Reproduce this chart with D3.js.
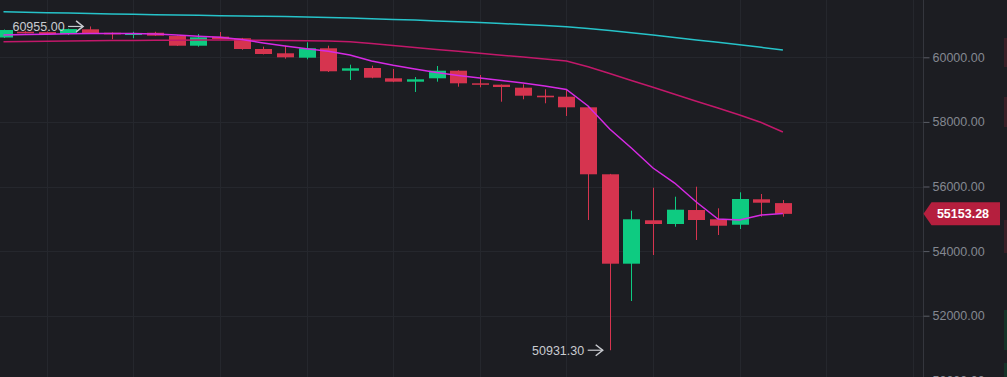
<!DOCTYPE html>
<html>
<head>
<meta charset="utf-8">
<script src="https://cdn.jsdelivr.net/npm/d3@7"></script>
<style>
body { margin: 0; background: #1c1d22; overflow: hidden; }
svg { display: block; }
.axis text { fill: #848891; font: 12.5px "Liberation Sans", Arial, sans-serif; }
.axis line { stroke: #5a5d66; }
.axis path { display: none; }
.mark text { fill: #c9cbd0; font: 12.5px "Liberation Sans", Arial, sans-serif; }
</style>
</head>
<body>
<div class="candle-chart"></div>
<script>
// DATA ----------------------------------------------

const opens  = [60613, 60790, 60780, 60720, 60867, 60760, 60690, 60760, 60659, 60359,
                60638, 60588, 60257, 60124, 59988, 60279, 59585, 59669, 59350, 59245,
                59350, 59585, 59195, 59152, 59059, 58811, 58780, 58452, 56378, 53610,
                54954, 54839, 55272, 54985, 54817, 55604, 55486];
const highs  = [60860, 60810, 60800, 60890, 60955, 60770, 60790, 60790, 60675, 60720,
                60783, 60600, 60330, 60360, 60464, 60360, 59771, 59740, 59638, 59390,
                59731, 59600, 59452, 59160, 59164, 59009, 58988, 58471, 56390, 55251,
                55963, 55684, 55994, 55325, 55820, 55768, 55582];
const lows   = [60600, 60740, 60700, 60690, 60735, 60560, 60590, 60660, 60350, 60330,
                60560, 60235, 60090, 59957, 59938, 59545, 59297, 59350, 59230, 58926,
                59245, 59090, 59071, 58625, 58700, 58576, 58183, 54963, 50931.30, 52455,
                53879, 54755, 54344, 54498, 54684, 55065, 55065];
const closes = [60845, 60760, 60720, 60875, 60743, 60710, 60752, 60670, 60359, 60619,
                60567, 60257, 60102, 60000, 60279, 59567, 59659, 59368, 59245, 59319,
                59585, 59195, 59152, 59080, 58811, 58762, 58452, 56378, 53610, 54985,
                54839, 55282, 54963, 54786, 55613, 55498, 55153.28];

const maShort = [60690, 60703, 60715, 60728, 60740, 60740, 60734, 60721, 60690, 60653,
                 60619, 60551, 60443, 60350, 60266, 60189, 60071, 59885, 59752, 59638,
                 59529, 59437, 59359, 59282, 59204, 59111, 59003, 58492, 57780, 57192,
                 56573, 56108, 55520, 54994, 54963, 55118, 55164];
const maMid   = [60480, 60489, 60498, 60505, 60511, 60517, 60523, 60526, 60529, 60533,
                 60533, 60533, 60529, 60523, 60514, 60505, 60483, 60424, 60365, 60303,
                 60245, 60186, 60124, 60065, 60006, 59947, 59885, 59709, 59498, 59282,
                 59071, 58854, 58638, 58430, 58214, 57981, 57687];
const maLong  = [61409, 61396, 61381, 61368, 61356, 61344, 61331, 61319, 61310, 61300,
                 61288, 61279, 61269, 61260, 61248, 61232, 61214, 61195, 61173, 61152,
                 61127, 61102, 61074, 61046, 61015, 60985, 60947, 60892, 60830, 60762,
                 60690, 60613, 60536, 60464, 60390, 60310, 60226];

const yTicks = [50000, 52000, 54000, 56000, 58000, 60000];
const gridSlots = [2, 6, 10, 14, 18, 22, 26, 30, 34, 38, 42];

const lastPrice = 55153.28;
const highMark = {index: 4, value: 60955.00};
const lowMark = {index: 28, value: 50931.30};

// CHART INIT ----------------------------------------

const width = 1007;
const height = 377;
const axisX = 923.5;

const upColor = '#0ecb81';
const downColor = '#d6344f';

const svg = d3.select('.candle-chart').append('svg')
	.attr('width', width)
	.attr('height', height);

svg.append('rect')
	.attr('width', width)
	.attr('height', height)
	.attr('fill', '#1c1d22');

const xScale = d3.scaleLinear()
	.domain([0, 36])
	.range([3.5, 782.9]);

const yScale = d3.scaleLinear()
	.domain([50000, 60000])
	.range([380.3, 57.3]);

const candles = opens.map((o, i) => ({i: i, o: o, h: highs[i], l: lows[i], c: closes[i]}));

// grid
const grid = svg.append('g').attr('class', 'grid');

grid.selectAll('.vgrid')
	.data(gridSlots)
	.enter().append('line')
	.attr('x1', d => Math.round(xScale(d)) + 0.5)
	.attr('x2', d => Math.round(xScale(d)) + 0.5)
	.attr('y1', 0)
	.attr('y2', height)
	.attr('stroke', '#25272d')
	.attr('stroke-width', 1);

grid.selectAll('.hgrid')
	.data(yTicks)
	.enter().append('line')
	.attr('x1', 0)
	.attr('x2', axisX)
	.attr('y1', d => Math.round(yScale(d)) + 0.5)
	.attr('y2', d => Math.round(yScale(d)) + 0.5)
	.attr('stroke', '#25272d')
	.attr('stroke-width', 1);

// candles
const bodyW = 17;

const candle = svg.append('g').selectAll('g')
	.data(candles)
	.enter().append('g')
	.attr('fill', d => d.c >= d.o ? upColor : downColor)
	.attr('stroke', d => d.c >= d.o ? upColor : downColor);

candle.append('line')
	.attr('x1', d => Math.round(xScale(d.i)) + 0.5)
	.attr('x2', d => Math.round(xScale(d.i)) + 0.5)
	.attr('y1', d => yScale(d.h))
	.attr('y2', d => yScale(d.l))
	.attr('stroke-width', 1);

candle.append('rect')
	.attr('x', d => Math.round(xScale(d.i)) + 0.5 - bodyW / 2)
	.attr('y', d => yScale(Math.max(d.o, d.c)))
	.attr('width', bodyW)
	.attr('height', d => Math.max(1.5, Math.abs(yScale(d.o) - yScale(d.c))))
	.attr('stroke', 'none');

// moving averages
const line = d3.line()
	.x((d, i) => xScale(i))
	.y(d => yScale(d));

[[maLong, '#26c3c9'], [maMid, '#c2186a'], [maShort, '#d62ae4']].forEach(([vals, color]) => {
	svg.append('path')
		.datum(vals)
		.attr('d', line)
		.attr('fill', 'none')
		.attr('stroke', color)
		.attr('stroke-width', 1.5);
});

// high / low markers
function marker(m) {
	const x = xScale(m.index);
	const y = yScale(m.value);
	const g = svg.append('g').attr('class', 'mark');
	g.append('text')
		.attr('x', x - 25.5)
		.attr('y', y + 4.5)
		.attr('text-anchor', 'end')
		.text(d3.format('.2f')(m.value));
	g.append('line')
		.attr('x1', x - 22).attr('x2', x - 7)
		.attr('y1', y).attr('y2', y)
		.attr('stroke', '#c9cbd0').attr('stroke-width', 1.2);
	g.append('path')
		.attr('d', `M${x - 14},${y - 5.5} L${x - 7},${y} L${x - 14},${y + 5.5}`)
		.attr('fill', 'none')
		.attr('stroke', '#c9cbd0').attr('stroke-width', 1.5);
}
marker(highMark);
marker(lowMark);

// right axis
svg.append('line')
	.attr('x1', axisX).attr('x2', axisX)
	.attr('y1', 0).attr('y2', height)
	.attr('stroke', '#34363d');

const yAxis = d3.axisRight()
	.scale(yScale)
	.tickValues(yTicks)
	.tickFormat(d3.format('.2f'))
	.tickSize(6)
	.tickSizeOuter(0)
	.tickPadding(3);

svg.append('g')
	.attr('class', 'axis y-axis')
	.attr('transform', `translate(${axisX}, 0)`)
	.call(yAxis);

// faint edge strips from the neighbouring panel
[[38, 67, '#3a1f27'], [97, 127, '#3a1f27'], [220, 253, '#3a1f27'], [310, 350, '#153429'], [363, 377, '#153429']]
	.forEach(([y0, y1, c]) => {
		svg.append('rect')
			.attr('x', 1004).attr('y', y0)
			.attr('width', 3).attr('height', y1 - y0)
			.attr('fill', c);
	});

// last price badge
const py = yScale(lastPrice);
const badge = svg.append('g');
badge.append('path')
	.attr('d', `M${axisX},${py} L${axisX + 8},${py - 11.5} L1000,${py - 11.5} L1000,${py + 11.5} L${axisX + 8},${py + 11.5} Z`)
	.attr('fill', '#b51f3e');
badge.append('text')
	.attr('x', 963)
	.attr('y', py + 4.5)
	.attr('text-anchor', 'middle')
	.attr('fill', '#ffffff')
	.attr('font-family', '"Liberation Sans", Arial, sans-serif')
	.attr('font-size', '12.5px')
	.attr('font-weight', 'bold')
	.text(d3.format('.2f')(lastPrice));
</script>
</body>
</html>
